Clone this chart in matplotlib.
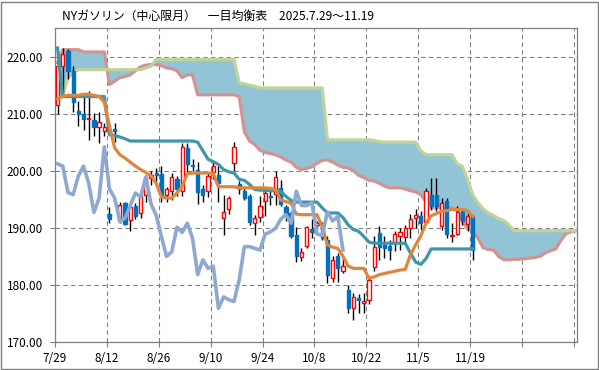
import matplotlib
matplotlib.use('Agg')
import matplotlib.pyplot as plt
import numpy as np
from matplotlib.patches import Rectangle

plt.rcParams['font.family'] = ['Noto Sans CJK JP', 'DejaVu Sans']

title = "NYガソリン（中心限月）　一目均衡表　2025.7.29～11.19"
tick_labels = ["7/29", "8/12", "8/26", "9/10", "9/24", "10/8", "10/22", "11/5", "11/19", "", ""]
y_ticks = [170, 180, 190, 200, 210, 220]

open_ = [211.5, 218.3, 221.0, 217.4, 210.4, 210.0, 209.0, 208.8, 207.7, 207.0,
         192.4, 207.2, 191.4, 194.3, 191.4, 193.9, 192.6, 195.8, 198.8, 199.6,
         199.5, 195.8, 196.5, 198.6, 196.4, 203.9, 201.0, 200.2, 196.8, 196.4,
         199.7, 199.3, 191.7, 193.3, 201.4, 197.7, 196.4, 195.5, 190.9, 191.9,
         194.7, 195.6, 196.0, 197.0, 193.7, 192.6, 188.8, 184.9, 186.9, 189.8,
         190.5, 190.4, 187.9, 181.2, 185.1, 182.5, 179.1, 175.9, 177.7, 176.9,
         177.4, 183.1, 189.1, 187.0, 186.8, 187.4, 188.6, 188.4, 189.9, 191.7,
         192.1, 191.1, 195.8, 195.8, 190.4, 194.7, 188.5, 188.9, 192.8, 190.7,
         191.9]
high = [219.5, 221.5, 221.3, 218.3, 212.2, 213.0, 213.9, 210.1, 210.2, 208.4,
        193.7, 208.4, 194.6, 194.6, 194.0, 194.4, 196.7, 199.3, 200.0, 200.5,
        200.8, 197.2, 199.6, 199.0, 204.9, 204.9, 202.0, 201.5, 197.5, 199.8,
        201.5, 200.8, 195.8, 195.5, 205.0, 198.2, 197.0, 196.0, 192.3, 195.5,
        196.8, 196.4, 200.0, 198.4, 194.0, 193.0, 190.2, 186.5, 190.4, 191.6,
        191.2, 191.0, 188.5, 185.0, 185.6, 184.8, 180.0, 178.5, 178.4, 178.6,
        181.5, 188.5, 190.3, 188.5, 187.8, 189.5, 189.9, 190.5, 192.5, 193.3,
        193.0, 197.0, 198.7, 198.7, 195.2, 195.2, 190.9, 193.8, 193.5, 192.6,
        192.3]
low = [210.0, 213.0, 216.0, 210.2, 207.8, 207.2, 205.4, 206.0, 204.9, 206.0,
       190.8, 205.1, 190.8, 190.5, 189.4, 191.5, 191.8, 194.5, 197.5, 198.0,
       194.6, 194.6, 194.8, 195.5, 195.5, 199.8, 200.0, 194.2, 194.6, 195.4,
       198.5, 194.5, 188.7, 192.5, 200.0, 196.0, 194.8, 190.5, 188.8, 191.0,
       192.0, 194.0, 194.0, 193.8, 191.2, 188.2, 184.1, 184.2, 186.5, 188.2,
       189.8, 187.8, 180.4, 180.5, 180.5, 182.0, 175.1, 173.9, 175.0, 175.0,
       176.7, 182.5, 184.4, 184.8, 184.4, 186.0, 186.2, 187.2, 188.3, 189.9,
       189.6, 190.9, 193.2, 193.0, 189.6, 188.2, 187.6, 188.7, 190.5, 189.5,
       184.4]
close = [218.3, 220.4, 217.4, 212.0, 210.0, 209.1, 209.2, 207.6, 208.6, 207.7,
         191.5, 207.0, 194.0, 190.7, 193.6, 192.1, 196.0, 198.7, 199.3, 199.3,
         195.5, 196.8, 198.9, 196.8, 204.2, 201.2, 200.8, 196.2, 195.8, 199.1,
         200.8, 197.8, 192.7, 195.2, 204.2, 196.8, 195.2, 191.1, 191.7, 193.9,
         196.1, 195.4, 198.9, 194.2, 192.2, 188.5, 185.0, 185.8, 190.1, 189.2,
         190.8, 188.2, 181.8, 184.4, 182.9, 183.3, 175.9, 177.9, 177.4, 177.1,
         180.9, 186.7, 186.7, 186.4, 186.1, 188.9, 189.3, 189.9, 191.5, 192.3,
         190.8, 196.4, 193.9, 193.9, 194.4, 188.9, 188.7, 192.8, 191.2, 192.0,
         186.1]

tenkan = [212.6, 213.0, 213.2, 213.2, 213.2, 213.4, 213.4, 213.2, 213.0, 212.0,
          207.8, 204.0, 202.8, 202.2, 201.5, 200.8, 200.2, 199.7, 199.1, 197.8,
          195.4, 195.2, 195.2, 196.1, 197.2, 199.5, 199.6, 199.6, 199.6, 199.6,
          199.5, 197.2, 197.2, 197.2, 197.2, 197.0, 197.0, 197.0, 197.0, 197.0,
          197.0, 196.9, 196.7, 194.9, 194.6, 194.3, 192.4, 192.3, 192.3, 192.3,
          192.3, 190.2, 187.0, 186.6, 186.4, 185.0, 183.3, 182.9, 182.9, 182.9,
          181.2, 181.4, 181.8, 182.0, 182.2, 182.4, 182.6, 182.7, 185.3, 187.0,
          188.6, 190.8, 192.1, 192.5, 192.9, 193.0, 193.2, 193.2, 193.2, 193.0,
          192.0]
kijun = [221.5, 213.0, 213.0, 213.0, 213.0, 213.0, 213.0, 213.0, 213.0, 213.0,
         206.3, 206.2, 205.9, 205.6, 205.2, 205.2, 205.2, 205.2, 205.2, 205.2,
         205.2, 205.2, 205.2, 205.2, 205.2, 205.2, 205.2, 205.0, 203.5, 202.0,
         201.6, 201.1, 200.2, 199.8, 199.6, 198.5, 198.3, 197.6, 196.7, 196.6,
         196.6, 196.5, 196.5, 196.4, 195.5, 194.8, 194.5, 194.5, 194.5, 194.5,
         194.5, 193.5, 192.6, 192.6, 192.6, 191.8, 190.5, 189.7, 189.4, 188.5,
         187.5, 187.3, 187.3, 187.3, 187.3, 187.3, 187.3, 187.3, 185.6, 184.0,
         183.6, 184.6, 186.3, 186.3, 186.3, 186.3, 186.3, 186.3, 186.3, 186.3,
         186.3]
senkou_a = [218.9, 221.2, 221.2, 221.2, 221.2, 220.8, 220.8, 220.8, 220.8, 220.8,
            215.1, 215.7, 216.3, 216.5, 216.8, 217.5, 218.2, 218.5, 218.6, 218.6,
            218.4, 218.0, 217.9, 217.5, 216.3, 216.8, 216.8, 213.3, 213.3, 213.3,
            213.3, 213.3, 213.3, 213.3, 213.3, 213.0, 206.8, 205.2, 204.6, 203.6,
            203.2, 203.0, 202.8, 202.4, 201.9, 201.5, 200.6, 200.2, 200.4, 200.7,
            201.3, 201.8, 201.9, 201.5, 201.0, 200.6, 200.5, 200.0, 199.2, 198.8,
            198.3, 198.2, 197.8, 197.3, 197.0, 197.0, 197.0, 196.8, 196.5, 196.3,
            195.8, 194.6, 193.5, 193.5, 193.5, 193.5, 193.5, 193.0, 191.2, 189.8,
            189.6, 188.2, 186.5, 186.2, 186.1, 185.0, 184.4, 184.4, 184.5, 184.5,
            184.6, 184.7, 184.8, 185.0, 185.6, 186.0, 186.3, 187.8, 189.0, 189.3,
            189.5]
senkou_b = [213.3, 213.3, 216.3, 217.2, 217.7, 217.7, 217.7, 217.7, 217.7, 217.7,
            217.7, 217.7, 217.7, 217.7, 217.7, 217.7, 217.7, 218.0, 218.3, 219.5,
            219.5, 219.5, 219.5, 219.5, 219.5, 219.5, 219.5, 219.5, 219.5, 219.5,
            219.5, 219.5, 219.5, 219.5, 219.5, 215.4, 215.2, 215.0, 214.8, 214.5,
            214.5, 214.5, 214.5, 214.5, 214.5, 214.5, 214.5, 214.5, 214.5, 214.5,
            214.5, 214.5, 205.4, 205.4, 205.4, 205.4, 205.4, 205.4, 205.4, 205.4,
            205.4, 205.3, 205.1, 205.0, 205.0, 205.0, 205.0, 205.0, 205.0, 205.0,
            203.5, 202.8, 202.8, 202.8, 202.8, 202.8, 202.8, 201.2, 200.8, 198.5,
            195.8, 194.4, 193.3, 192.6, 192.2, 191.6, 191.3, 190.5, 189.5, 189.5,
            189.5, 189.5, 189.5, 189.5, 189.5, 189.5, 189.5, 189.5, 189.5, 189.5,
            189.5]

# lagging span: closing prices plotted 25 sessions back
chikou = close[25:]

W, H = 599, 370
fig = plt.figure(figsize=(W / 100, H / 100), dpi=100)
fig.patch.set_facecolor('white')
ax = fig.add_axes([55 / W, 1 - 342 / H, (577 - 55) / W, (342 - 28) / H])

n = len(close)
xi = np.arange(n)
xs = np.arange(len(senkou_a))
xc = np.arange(len(chikou))

ax.set_xlim(-0.5, 100.1)
ax.set_ylim(170, 225)

# cloud
ax.fill_between(xs, senkou_a, senkou_b, color='#92C4D5', lw=0, zorder=1)
ax.plot(xs, senkou_a, color='#D49393', lw=2.3, zorder=2, solid_joinstyle='round')
ax.plot(xs, senkou_b, color='#BFD39A', lw=2.3, zorder=2, solid_joinstyle='round')

# candles
o = np.array(open_); c = np.array(close); h = np.array(high); l = np.array(low)
up = c >= o
ax.vlines(xi, l, h, color='black', lw=1.0, zorder=3)
bw = 0.62
for i in range(n):
    bot = min(o[i], c[i])
    ht = max(abs(c[i] - o[i]), 0.25)
    if up[i]:
        r = Rectangle((i - bw / 2, bot), bw, ht, facecolor='white', edgecolor='#FF0000', lw=1.0, zorder=4)
    else:
        r = Rectangle((i - bw / 2, bot), bw, ht, facecolor='#0070C0', edgecolor='#0070C0', lw=1.0, zorder=4)
    ax.add_patch(r)

# lines
ax.plot(xi, kijun, color='#3E97A9', lw=2.3, zorder=5, solid_joinstyle='round')
ax.plot(xi, tenkan, color='#E0853C', lw=2.3, zorder=6, solid_joinstyle='round')
ax.plot(xc, chikou, color='#8FA8D2', lw=2.6, zorder=7, solid_joinstyle='round')

# grid and axes
tick_pos = [-0.5 + 10 * k for k in range(len(tick_labels))]
ax.set_xticks(tick_pos)
ax.set_xticklabels(tick_labels)
ax.set_yticks(y_ticks)
ax.set_yticklabels([f"{v:.2f}" for v in y_ticks])
ax.grid(True, color='#808080', lw=0.8, ls=(0, (4, 3)), zorder=0)
ax.set_axisbelow(True)
for s in ax.spines.values():
    s.set_color('#808080')
    s.set_linewidth(0.9)
ax.tick_params(axis='both', colors='#808080', labelcolor='black', labelsize=8.5, length=3.5, width=0.8)
ax.tick_params(axis='x', pad=4)
ax.tick_params(axis='y', pad=5)

fig.text(62 / W, 1 - 16 / H, title, ha='left', va='center', fontsize=8.6, color='black')

fig.patches.append(Rectangle((0.5 / W, 1.5 / H), (W - 1.5) / W, (H - 3) / H, transform=fig.transFigure,
                             fill=False, edgecolor='#808080', lw=1.0))

fig.savefig('out.png', dpi=100)
